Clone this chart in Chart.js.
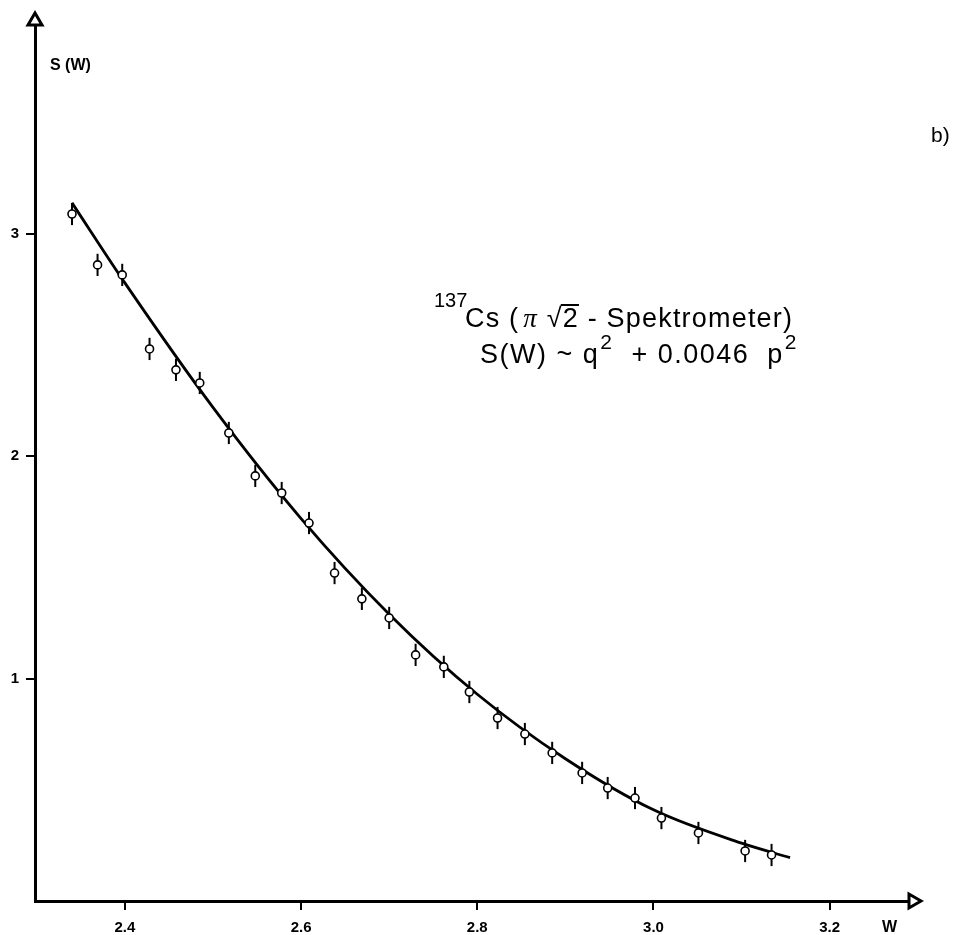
<!DOCTYPE html>
<html>
<head>
  <meta charset="utf-8">
  <title>137Cs S(W)</title>
  <script src="https://cdn.jsdelivr.net/npm/chart.js@4.4.1/dist/chart.umd.min.js"></script>
  <style>
    html, body { margin: 0; padding: 0; background: #fff; }
    #wrap { width: 954px; height: 935px; }
  </style>
</head>
<body>
<div id="wrap"><canvas id="c" width="954" height="935"></canvas></div>
<script>
// measured points (W, S(W)) with error bars
var pointW = [2.340, 2.369, 2.397, 2.428, 2.458, 2.485, 2.518, 2.548, 2.578, 2.609,
              2.638, 2.669, 2.700, 2.730, 2.762, 2.791, 2.823, 2.854, 2.885, 2.919,
              2.948, 2.979, 3.009, 3.051, 3.104, 3.134];
var pointS = [3.090, 2.861, 2.816, 2.483, 2.389, 2.330, 2.105, 1.912, 1.835, 1.700,
              1.475, 1.359, 1.273, 1.107, 1.053, 0.940, 0.823, 0.751, 0.666, 0.576,
              0.508, 0.463, 0.373, 0.306, 0.225, 0.207];
var pointErr = [0.05, 0.05, 0.05, 0.05, 0.05, 0.05, 0.05, 0.05, 0.05, 0.05,
                0.05, 0.05, 0.05, 0.05, 0.05, 0.05, 0.05, 0.05, 0.05, 0.05,
                0.05, 0.05, 0.05, 0.05, 0.05, 0.05];

// fitted curve
var curveW = [2.34, 2.40, 2.50, 2.60, 2.70, 2.80, 2.90, 3.00, 3.10, 3.155];
var curveS = [3.14, 2.78, 2.22, 1.72, 1.29, 0.93, 0.64, 0.41, 0.26, 0.195];

var xTicks = [2.4, 2.6, 2.8, 3.0, 3.2];
var yTicks = [1, 2, 3];

function toXY(xs, ys) {
  var out = [];
  for (var i = 0; i < xs.length; ++i) out.push({x: xs[i], y: ys[i]});
  return out;
}

var errorBars = {
  id: 'errorBars',
  beforeDatasetsDraw: function(chart) {
    var ctx = chart.ctx, xs = chart.scales.x, ys = chart.scales.y;
    ctx.save();
    ctx.strokeStyle = '#000';
    ctx.lineWidth = 2;
    for (var i = 0; i < pointW.length; ++i) {
      var px = xs.getPixelForValue(pointW[i]);
      ctx.beginPath();
      ctx.moveTo(px, ys.getPixelForValue(pointS[i] + pointErr[i]));
      ctx.lineTo(px, ys.getPixelForValue(pointS[i] - pointErr[i]));
      ctx.stroke();
    }
    ctx.restore();
  }
};

function drawPiece(ctx, txt, x, y) {
  ctx.fillText(txt, x, y);
  return x + ctx.measureText(txt).width;
}

var decorations = {
  id: 'decorations',
  afterDraw: function(chart) {
    var ctx = chart.ctx, a = chart.chartArea;
    ctx.save();
    ctx.strokeStyle = '#000';
    ctx.fillStyle = '#fff';
    ctx.lineWidth = 3;
    ctx.lineJoin = 'miter';
    // arrow heads at the axis ends
    ctx.beginPath();
    ctx.moveTo(a.left - 7, a.top);
    ctx.lineTo(a.left + 7, a.top);
    ctx.lineTo(a.left, a.top - 12);
    ctx.closePath();
    ctx.fill(); ctx.stroke();
    ctx.beginPath();
    ctx.moveTo(a.right, a.bottom - 7);
    ctx.lineTo(a.right, a.bottom + 7);
    ctx.lineTo(a.right + 12, a.bottom);
    ctx.closePath();
    ctx.fill(); ctx.stroke();

    ctx.fillStyle = '#000';
    ctx.textBaseline = 'alphabetic';
    ctx.textAlign = 'left';
    ctx.font = 'bold 16px "Liberation Sans", Arial, sans-serif';
    ctx.fillText('S (W)', 50, 70);
    ctx.fillText('W', 882, 932);
    ctx.font = '21px "Liberation Sans", Arial, sans-serif';
    ctx.fillText('b)', 931, 142);

    // annotation
    ctx.font = '20px "Liberation Sans", Arial, sans-serif';
    ctx.fillText('137', 434, 307);
    ctx.letterSpacing = '1.2px';
    ctx.font = '27px "Liberation Sans", Arial, sans-serif';
    var x = drawPiece(ctx, 'Cs (', 465, 327);
    ctx.font = 'italic 27px "Liberation Serif", serif';
    x = drawPiece(ctx, 'π', x + 4, 327);
    ctx.font = '27px "Liberation Sans", Arial, sans-serif';
    x = drawPiece(ctx, ' √', x, 327);
    var x2 = drawPiece(ctx, '2', x, 327);
    ctx.lineWidth = 2;
    ctx.beginPath();
    ctx.moveTo(x - 2, 305);
    ctx.lineTo(x2, 305);
    ctx.stroke();
    drawPiece(ctx, ' - Spektrometer)', x2, 327);

    ctx.letterSpacing = '1.5px';
    x = drawPiece(ctx, 'S(W) ~ q', 480, 363);
    ctx.font = '21px "Liberation Sans", Arial, sans-serif';
    x = drawPiece(ctx, '2', x + 1, 349);
    ctx.font = '27px "Liberation Sans", Arial, sans-serif';
    x = drawPiece(ctx, '  + 0.0046  p', x, 363);
    ctx.font = '21px "Liberation Sans", Arial, sans-serif';
    drawPiece(ctx, '2', x + 1, 349);
    ctx.restore();
  }
};

new Chart(document.getElementById('c'), {
  type: 'scatter',
  data: {
    datasets: [{
      data: toXY(pointW, pointS),
      pointRadius: 4,
      pointHoverRadius: 4,
      borderColor: '#000',
      backgroundColor: '#fff',
      borderWidth: 1.6
    }, {
      data: toXY(curveW, curveS),
      showLine: true,
      pointRadius: 0,
      borderColor: '#000',
      borderWidth: 2.8,
      cubicInterpolationMode: 'monotone'
    }]
  },
  options: {
    responsive: false,
    devicePixelRatio: 1,
    animation: false,
    layout: { padding: { top: 25, right: 45, left: 0, bottom: 0 } },
    plugins: { legend: { display: false }, tooltip: { enabled: false } },
    scales: {
      x: {
        type: 'linear',
        min: 2.298,
        max: 3.29,
        afterBuildTicks: function(scale) {
          scale.ticks = xTicks.map(function(v) { return {value: v}; });
        },
        afterFit: function(scale) { scale.height = 34; },
        ticks: {
          color: '#000',
          maxRotation: 0,
          padding: 9,
          font: { family: '"Liberation Sans", Arial, sans-serif', size: 15, weight: 'bold' },
          callback: function(v) { return v.toFixed(1); }
        },
        grid: { drawOnChartArea: false, drawTicks: true, tickLength: 9, color: '#000', lineWidth: 2 },
        border: { display: true, color: '#000', width: 3 }
      },
      y: {
        type: 'linear',
        min: 0,
        max: 3.94,
        afterBuildTicks: function(scale) {
          scale.ticks = yTicks.map(function(v) { return {value: v}; });
        },
        afterFit: function(scale) { scale.width = 35; },
        ticks: {
          color: '#000',
          padding: 7,
          font: { family: '"Liberation Sans", Arial, sans-serif', size: 15, weight: 'bold' }
        },
        grid: { drawOnChartArea: false, drawTicks: true, tickLength: 9, color: '#000', lineWidth: 2 },
        border: { display: true, color: '#000', width: 3 }
      }
    }
  },
  plugins: [errorBars, decorations]
});
</script>
</body>
</html>
